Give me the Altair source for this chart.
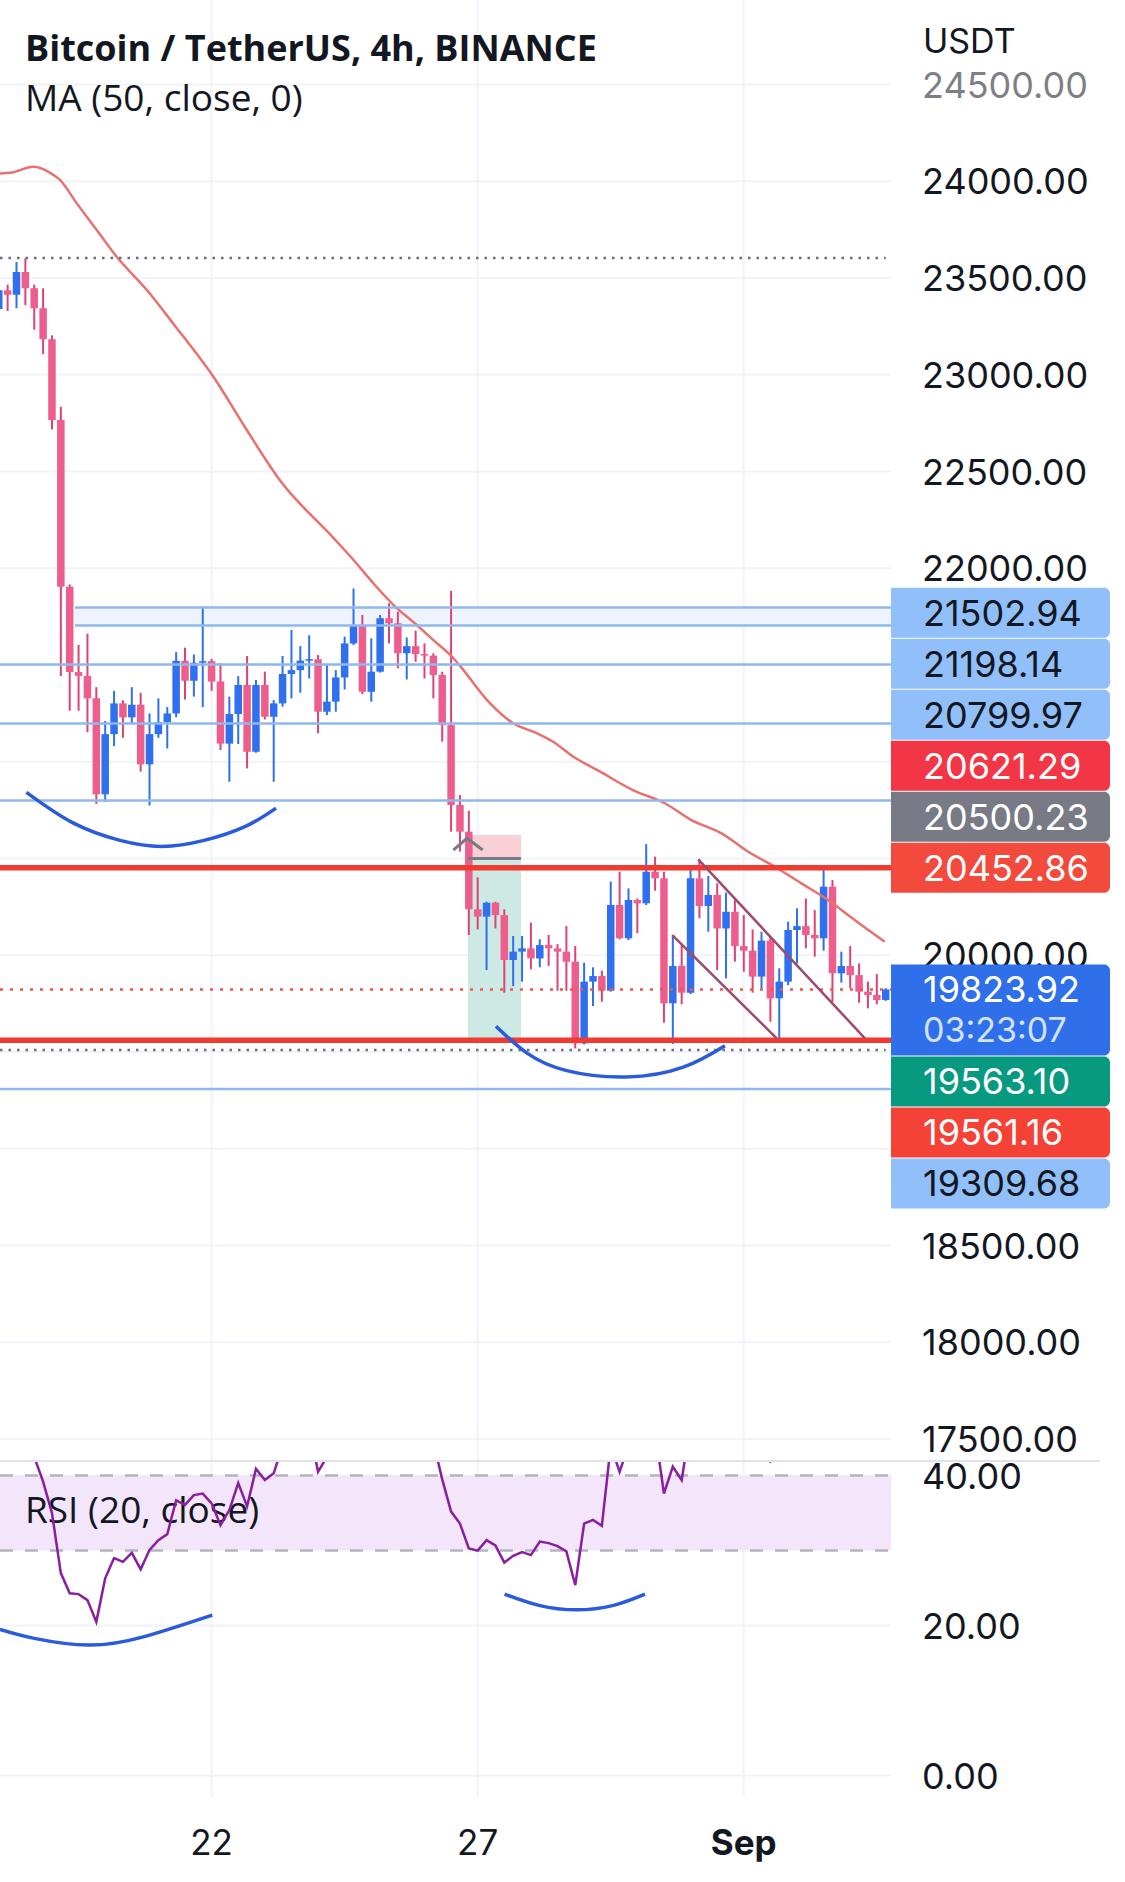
import altair as alt
import pandas as pd

# ---------------- values ----------------
# 4h candles, index 0 = Aug 22 00:00, 30 = Aug 27, 60 = Sep 1
candle_idx = list(range(-24, 77))
opens = [
    23340, 23437, 23414, 23531, 23447, 23344, 23184, 22766, 21905, 21464,
    21444, 21328, 20832, 21143, 21302, 21230, 21295, 20987, 21143, 21205,
    21250, 21522, 21419, 21512, 21520, 21415, 21094, 21247, 21397, 21052,
    21397, 21233, 21302, 21454, 21474, 21523, 21530, 21259, 21311, 21436,
    21612, 21707, 21362, 21466, 21742, 21716, 21561, 21598, 21557, 21549,
    21449, 21190, 20777, 20639, 20238, 20200, 20272, 20208, 19976, 20019,
    20036, 19984, 20053, 20036, 20019, 19967, 19545, 19864, 19893, 19817,
    20260, 20088, 20286, 20269, 20432, 20398, 19752, 19945, 19807, 20398,
    20255, 20312, 20139, 20225, 20048, 20024, 19890, 20076, 19778, 19864,
    20131, 20151, 20105, 20088, 20355, 19907, 19945, 19898, 19812, 19795,
    19769]
closes = [
    23437, 23414, 23531, 23447, 23344, 23184, 22766, 21905, 21464, 21444,
    21328, 20832, 21143, 21302, 21230, 21295, 20987, 21143, 21205, 21250,
    21522, 21419, 21512, 21520, 21415, 21094, 21247, 21397, 21052, 21397,
    21233, 21302, 21454, 21474, 21523, 21530, 21259, 21311, 21436, 21612,
    21707, 21362, 21466, 21742, 21716, 21561, 21598, 21557, 21549, 21449,
    21190, 20777, 20639, 20238, 20200, 20272, 20208, 19976, 20019, 20036,
    19984, 20053, 20036, 20019, 19967, 19545, 19864, 19893, 19817, 20260,
    20088, 20286, 20269, 20432, 20398, 19752, 19945, 19807, 20398, 20255,
    20312, 20139, 20225, 20048, 20024, 19890, 20076, 19778, 19864, 20131,
    20151, 20105, 20088, 20355, 19907, 19945, 19898, 19812, 19795, 19769,
    19824]
highs = [
    23490, 23466, 23583, 23602, 23466, 23447, 23204, 22835, 21917, 21604,
    21662, 21386, 21211, 21367, 21318, 21386, 21357, 21250, 21328, 21283,
    21567, 21590, 21555, 21804, 21532, 21509, 21337, 21443, 21547, 21423,
    21466, 21319, 21547, 21681, 21598, 21654, 21552, 21505, 21474, 21647,
    21896, 21759, 21638, 21759, 21819, 21776, 21643, 21678, 21612, 21561,
    21466, 21884, 20828, 20747, 20403, 20277, 20277, 20238, 20100, 20100,
    20169, 20083, 20105, 20058, 20151, 20048, 19962, 19938, 19921, 20381,
    20432, 20346, 20294, 20575, 20510, 20432, 20105, 20053, 20458, 20496,
    20410, 20372, 20324, 20286, 20208, 20134, 20122, 20096, 19933, 20174,
    20243, 20294, 20234, 20441, 20389, 20019, 20048, 19958, 19864, 19903,
    19830]
lows = [
    23291, 23330, 23344, 23360, 23233, 23107, 22718, 21444, 21264, 21264,
    21153, 20783, 20793, 21081, 21124, 21201, 20949, 20774, 21124, 21069,
    21230, 21322, 21337, 21283, 21367, 21061, 20897, 21092, 20966, 21047,
    21219, 20897, 21285, 21328, 21357, 21431, 21147, 21242, 21259, 21374,
    21604, 21350, 21311, 21461, 21612, 21483, 21426, 21517, 21431, 21328,
    21104, 20639, 20536, 20105, 20134, 19924, 20139, 19807, 19841, 19864,
    19928, 19938, 19945, 19817, 19817, 19519, 19540, 19738, 19760, 19812,
    20083, 20079, 20114, 20260, 20334, 19652, 19542, 19747, 19800, 20191,
    20122, 19924, 19881, 19967, 19915, 19807, 19829, 19657, 19571, 19846,
    19958, 20036, 19993, 20024, 19760, 19859, 19829, 19755, 19726, 19747,
    19765]
rsi_vals = [
    50.0, 49.0, 53.0, 48.0, 42.5, 39.2, 35.0, 27.0, 24.3, 24.2,
    23.4, 20.5, 26.3, 29.0, 28.5, 29.7, 27.5, 30.1, 31.4, 32.2,
    36.7, 36.1, 37.4, 37.6, 36.3, 33.4, 35.4, 39.0, 35.9, 40.9,
    39.4, 40.3, 44.0, 45.0, 46.0, 46.5, 40.5, 42.5, 45.0, 48.0,
    50.0, 46.0, 48.0, 52.0, 51.5, 49.0, 49.5, 49.0, 48.8, 44.5,
    39.5, 35.2, 33.6, 30.3, 30.0, 31.4, 30.7, 28.4, 29.3, 29.8,
    29.4, 31.2, 31.0, 30.6, 29.9, 25.4, 33.6, 34.1, 33.3, 44.0,
    40.5, 44.0, 43.5, 47.0, 46.0, 37.6, 41.2, 39.4, 47.0, 44.5,
    45.5, 43.0, 44.5, 43.0, 42.8, 42.6, 44.5, 41.9, 43.0, 46.5,
    46.5, 46.0, 45.8, 49.0, 43.5, 44.0, 43.5, 43.0, 42.8, 42.6,
    43.5]

ma_idx = [-23.86, -22.7, -20.1, -18.2, -17.1, -15.2, -12.95, -10.7, -7.3, -4.3,
          0.2, 4.0, 7.7, 13.7, 16.0, 18.4, 20.7, 22.9, 25.2, 27.1,
          28.0, 31.4, 34.0, 36.7, 38.5, 40.8, 43.8, 47.5, 51.1, 54.1,
          57.5, 60.5, 63.5, 66.5, 69.5, 72.5, 75.9]
ma_val = [24041, 24044, 24075, 24044, 24007, 23886, 23748, 23610, 23438, 23263,
          22990, 22712, 22455, 22159, 22043, 21914, 21802, 21716, 21621, 21543,
          21496, 21302, 21199, 21147, 21104, 21026, 20949, 20854, 20786, 20699,
          20630, 20535, 20458, 20372, 20286, 20183, 20070]

level_lines = [21502.94, 21198.14, 20799.97, 19309.68]
band_lines = [21798, 21704]
band_start = -15.4
red_lines = [20452.86, 19561.16]
dotted_levels = [23604, 19511]
dotted_end = 76
last_price = 19823.92
countdown = "03:23:07"
pos_entry, pos_stop, pos_target = 20500.23, 20621.29, 19563.10
pos_from, pos_to = 28.9, 34.88

chan_x1 = [54.87, 51.94]
chan_p1 = [20496, 20105]
chan_x2 = [73.66, 63.71]
chan_p2 = [19571, 19571]

chevron_x = [27.26, 28.8, 30.56]
chevron_p = [20544, 20605, 20544]

arc1_x = [-20.88, -15.74, -10.33, -5.59, -0.86, 3.88, 7.26]
arc1_p = [20842, 20687, 20594, 20563, 20594, 20668, 20761]
arc2_x = [32.06, 35.52, 40.03, 46.8, 53.18, 57.88]
arc2_p = [19634, 19496, 19404, 19371, 19422, 19533]
arc3_x = [-23.86, -19.98, -13.83, -7.7, 0.07]
arc3_r = [19.5, 18.3, 17.4, 18.5, 21.4]
arc4_x = [33.03, 36.91, 41.12, 45.31, 48.86]
arc4_r = [24.2, 22.7, 22.1, 22.7, 24.2]

price_ticks = [24500, 24000, 23500, 23000, 22500, 22000, 21500, 21000, 20500,
               20000, 19500, 19000, 18500, 18000, 17500]
rsi_ticks = [40, 20, 0]
rsi_band = [30, 40]
time_tick_idx = [0, 30, 60]
time_tick_lbl = ["22", "27", "Sep"]

label_values = [21502.94, 21198.14, 20799.97, 20621.29, 20500.23, 20452.86,
                19563.10, 19561.16, 19309.68]
label_kinds = ["level", "level", "level", "stop", "entry", "resist",
               "target", "support", "level"]

# ---------------- layout & style ----------------
W, H1, H2 = 891, 1460, 337
PMIN, PMAX = 17392, 24937
RMIN, RMAX = -2.85, 42.08
XMIN, XMAX = -23.86, 76.6

UP, DOWN = "#2F70EE", "#EE5E8D"
UPW, DOWNW = "#2F70EE", "#DE4274"
GRID = "#F0F3FA"
TXT = "#131722"
AXF = "Inter"
BOX_STYLE = {
    "level": ("#90BFF9", TXT),
    "stop": ("#F23645", "#FFFFFF"),
    "entry": ("#787B86", "#FFFFFF"),
    "resist": ("#F24A3D", "#FFFFFF"),
    "last": ("#2F6FEA", "#FFFFFF"),
    "target": ("#089981", "#FFFFFF"),
    "support": ("#F44336", "#FFFFFF"),
}
BODY_HALF = 0.423   # candle body half width (in candles)
WICK_HALF = 0.113
NOFRAME = alt.ViewBackground(stroke="transparent", strokeWidth=0)

xs = alt.Scale(domain=[XMIN, XMAX], nice=False, zero=False)
ps = alt.Scale(domain=[PMIN, PMAX], nice=False, zero=False)
rs = alt.Scale(domain=[RMIN, RMAX], nice=False, zero=False)


def X(f):
    return alt.X(f"{f}:Q", scale=xs, axis=None)


def PY(f):
    return alt.Y(f"{f}:Q", scale=ps, axis=None)


def RY(f):
    return alt.Y(f"{f}:Q", scale=rs, axis=None)


# ---------------- tables ----------------
cdf = pd.DataFrame({"i": candle_idx, "o": opens, "h": highs, "l": lows, "c": closes})
mid = (cdf["o"] + cdf["c"]) / 2
small = (cdf["o"] - cdf["c"]).abs() < 8
cdf["bt"] = cdf[["o", "c"]].max(axis=1).where(~small, mid + 4)
cdf["bb"] = cdf[["o", "c"]].min(axis=1).where(~small, mid - 4)
up_cond = "datum.c >= datum.o"

# label boxes (stacked like the price scale does)
k = H1 / (PMAX - PMIN)
SLOT, HALF = 51 / k, 25 / k
rows = []
upper = sorted([(v, kd) for v, kd in zip(label_values, label_kinds) if v > last_price])
prev = None
for v, kd in upper:
    cpos = v if prev is None else max(v, prev + SLOT)
    rows.append(dict(v=v, kind=kd, c=cpos, top=cpos + HALF, bot=cpos - HALF))
    prev = cpos
rows.append(dict(v=last_price, kind="last", c=last_price, top=last_price + HALF,
                 bot=last_price - 66 / k))
lower = sorted([(v, kd) for v, kd in zip(label_values, label_kinds) if v < last_price],
               reverse=True)
prev = None
for v, kd in lower:
    cpos = min(v, last_price - 92 / k) if prev is None else min(v, prev - SLOT)
    rows.append(dict(v=v, kind=kd, c=cpos, top=cpos + HALF, bot=cpos - HALF))
    prev = cpos
ldf = pd.DataFrame(rows)
ldf["txt"] = ldf["v"].map(lambda v: f"{v:.2f}")
ldf["bg"] = ldf["kind"].map(lambda s: BOX_STYLE[s][0])
ldf["fg"] = ldf["kind"].map(lambda s: BOX_STYLE[s][1])

# axis labels that the boxes hide are not drawn
shown_ticks = [t for t in price_ticks
               if not any((r["bot"] < t < r["top"]) for r in rows)]

# ---------------- price pane ----------------
L = []
L.append(alt.Chart(pd.DataFrame({"p": price_ticks})).mark_rule(color=GRID, strokeWidth=2, clip=True)
         .encode(y=PY("p"), x=alt.value(0), x2=alt.value(W)))
L.append(alt.Chart(pd.DataFrame({"i": time_tick_idx})).mark_rule(color=GRID, strokeWidth=2, clip=True)
         .encode(x=X("i"), y=alt.value(0), y2=alt.value(H1)))
# band rectangle
L.append(alt.Chart(pd.DataFrame({"a": [band_start], "b": [XMAX], "y1": [band_lines[1]], "y2": [band_lines[0]]}))
         .mark_rect(color="#EDF4FD", clip=True)
         .encode(x=X("a"), x2=alt.X2("b"), y=PY("y1"), y2=alt.Y2("y2")))
# position tool
posdf = pd.DataFrame({"a": [pos_from, pos_from], "b": [pos_to, pos_to],
                      "y1": [pos_entry, pos_target], "y2": [pos_stop, pos_entry],
                      "kind": ["stop", "target"]})
L.append(alt.Chart(posdf).mark_rect(clip=True)
         .encode(x=X("a"), x2=alt.X2("b"), y=PY("y1"), y2=alt.Y2("y2"),
                 color=alt.Color("kind:N", scale=alt.Scale(domain=["stop", "target"],
                                                           range=["#F8D0D5", "#CDE9E3"]), legend=None)))
# candles (wick and body drawn as rectangles)
L.append(alt.Chart(cdf)
         .transform_calculate(wa=f"max(datum.i - {WICK_HALF}, {XMIN})", wb=f"datum.i + {WICK_HALF}")
         .mark_rect(clip=True)
         .encode(x=X("wa"), x2=alt.X2("wb"), y=PY("l"), y2=alt.Y2("h"),
                 color=alt.condition(up_cond, alt.value(UPW), alt.value(DOWNW))))
L.append(alt.Chart(cdf)
         .transform_calculate(ba=f"max(datum.i - {BODY_HALF}, {XMIN})", bb2=f"datum.i + {BODY_HALF}")
         .mark_rect(clip=True)
         .encode(x=X("ba"), x2=alt.X2("bb2"), y=PY("bb"), y2=alt.Y2("bt"),
                 color=alt.condition(up_cond, alt.value(UP), alt.value(DOWN))))
# MA
L.append(alt.Chart(pd.DataFrame({"i": ma_idx, "p": ma_val}))
         .mark_line(color="#E8716F", strokeWidth=2.5, interpolate="monotone", clip=True)
         .encode(x=X("i"), y=PY("p")))
# horizontal levels
L.append(alt.Chart(pd.DataFrame({"p": level_lines})).mark_rule(color="#8FB8EF", strokeWidth=2.5, clip=True)
         .encode(y=PY("p"), x=alt.value(0), x2=alt.value(W)))
L.append(alt.Chart(pd.DataFrame({"p": band_lines, "a": [band_start] * 2, "b": [XMAX] * 2}))
         .mark_rule(color="#8FB8EF", strokeWidth=2.5, clip=True)
         .encode(y=PY("p"), x=X("a"), x2=alt.X2("b")))
L.append(alt.Chart(pd.DataFrame({"p": dotted_levels, "a": [XMIN] * 2, "b": [dotted_end] * 2}))
         .mark_rule(color="#6A6D78", strokeWidth=2.5, strokeDash=[2.5, 6], clip=True)
         .encode(y=PY("p"), x=X("a"), x2=alt.X2("b")))
L.append(alt.Chart(pd.DataFrame({"p": [last_price]}))
         .mark_rule(color="#F0574A", strokeWidth=2.5, strokeDash=[3, 7], clip=True)
         .encode(y=PY("p"), x=alt.value(0), x2=alt.value(W)))
L.append(alt.Chart(pd.DataFrame({"p": red_lines})).mark_rule(color="#F23B30", strokeWidth=5.5, clip=True)
         .encode(y=PY("p"), x=alt.value(0), x2=alt.value(W)))
L.append(alt.Chart(pd.DataFrame({"p": [pos_entry], "a": [pos_from], "b": [pos_to]}))
         .mark_rule(color="#787B86", strokeWidth=3, clip=True)
         .encode(y=PY("p"), x=X("a"), x2=alt.X2("b")))
L.append(alt.Chart(pd.DataFrame({"i": chevron_x, "p": chevron_p}))
         .mark_line(color="#787B86", strokeWidth=3, clip=True)
         .encode(x=X("i"), y=PY("p")))
# channel lines
L.append(alt.Chart(pd.DataFrame({"a": chan_x1, "b": chan_x2, "y1": chan_p1, "y2": chan_p2}))
         .mark_rule(color="#9D4A6E", strokeWidth=2.5, clip=True)
         .encode(x=X("a"), x2=alt.X2("b"), y=PY("y1"), y2=alt.Y2("y2")))
# hand-drawn arcs
arcs_p = pd.DataFrame({"i": arc1_x + arc2_x, "p": arc1_p + arc2_p,
                       "g": ["a"] * len(arc1_x) + ["b"] * len(arc2_x)})
L.append(alt.Chart(arcs_p).mark_line(color="#2A5BDA", strokeWidth=3.5, interpolate="natural", clip=True)
         .encode(x=X("i"), y=PY("p"), detail="g:N"))
# texts
L.append(alt.Chart(pd.DataFrame({"t": ["Bitcoin / TetherUS, 4h, BINANCE"]}))
         .mark_text(align="left", baseline="alphabetic", font="Open Sans", fontSize=36,
                    fontWeight="bold", color=TXT)
         .encode(text="t:N", x=alt.value(25), y=alt.value(61)))
L.append(alt.Chart(pd.DataFrame({"t": ["MA (50, close, 0)"]}))
         .mark_text(align="left", baseline="alphabetic", font="Open Sans", fontSize=37, color=TXT)
         .encode(text="t:N", x=alt.value(25), y=alt.value(111)))
L.append(alt.Chart(pd.DataFrame({"t": ["USDT"]}))
         .mark_text(align="left", baseline="alphabetic", font=AXF, fontSize=34, color=TXT)
         .encode(text="t:N", x=alt.value(923), y=alt.value(53)))
tick_df = pd.DataFrame({"p": shown_ticks, "t": [f"{v:.2f}" for v in shown_ticks]})
L.append(alt.Chart(tick_df)
         .mark_text(align="left", baseline="alphabetic", dy=13, font=AXF, fontSize=36, color=TXT)
         .encode(text="t:N", x=alt.value(922), y=PY("p"),
                 opacity=alt.condition("datum.p > 24400", alt.value(0.55), alt.value(1))))
# price-scale label boxes
L.append(alt.Chart(ldf).mark_rect(cornerRadiusTopRight=6, cornerRadiusBottomRight=6)
         .encode(x=alt.value(891), x2=alt.value(1110), y=PY("bot"), y2=alt.Y2("top"),
                 color=alt.Color("bg:N", scale=None)))
L.append(alt.Chart(ldf)
         .mark_text(align="left", baseline="alphabetic", dy=13, font=AXF, fontSize=36)
         .encode(text="txt:N", x=alt.value(923), y=PY("c"), color=alt.Color("fg:N", scale=None)))
L.append(alt.Chart(pd.DataFrame({"p": [last_price], "t": [countdown]}))
         .mark_text(align="left", baseline="alphabetic", dy=53, font=AXF, fontSize=34, color="#D3E2FF")
         .encode(text="t:N", x=alt.value(923), y=PY("p")))

top = alt.layer(*L).properties(width=W, height=H1, view=NOFRAME)

# ---------------- RSI pane ----------------
R = []
R.append(alt.Chart(pd.DataFrame({"r": rsi_ticks})).mark_rule(color=GRID, strokeWidth=2, clip=True)
         .encode(y=RY("r"), x=alt.value(0), x2=alt.value(W)))
R.append(alt.Chart(pd.DataFrame({"i": time_tick_idx})).mark_rule(color=GRID, strokeWidth=2, clip=True)
         .encode(x=X("i"), y=alt.value(0), y2=alt.value(H2)))
R.append(alt.Chart(pd.DataFrame({"a": [rsi_band[0]], "b": [rsi_band[1]]}))
         .mark_rect(color="#F3E6FB", clip=True)
         .encode(y=RY("a"), y2=alt.Y2("b"), x=alt.value(0), x2=alt.value(W)))
R.append(alt.Chart(pd.DataFrame({"r": rsi_band}))
         .mark_rule(color="#B2B5BE", strokeWidth=2.5, strokeDash=[13, 12], clip=True)
         .encode(y=RY("r"), x=alt.value(0), x2=alt.value(W)))
R.append(alt.Chart(pd.DataFrame({"t": ["RSI (20, close)"]}))
         .mark_text(align="left", baseline="alphabetic", font="Open Sans", fontSize=37, color=TXT)
         .encode(text="t:N", x=alt.value(25), y=alt.value(63)))
R.append(alt.Chart(pd.DataFrame({"i": candle_idx, "r": rsi_vals}))
         .mark_line(color="#8A1DA0", strokeWidth=2.5, clip=True)
         .encode(x=X("i"), y=RY("r")))
arcs_r = pd.DataFrame({"i": arc3_x + arc4_x, "r": arc3_r + arc4_r,
                       "g": ["a"] * len(arc3_x) + ["b"] * len(arc4_x)})
R.append(alt.Chart(arcs_r).mark_line(color="#2A5BDA", strokeWidth=3.5, interpolate="natural", clip=True)
         .encode(x=X("i"), y=RY("r"), detail="g:N"))
# pane separator (a thin rectangle, so it adds no stroke margin)
R.append(alt.Chart(pd.DataFrame({"a": [0]})).mark_rect(color="#E0E3EB")
         .encode(y=alt.value(0), y2=alt.value(2), x=alt.value(0), x2=alt.value(1100)))
R.append(alt.Chart(pd.DataFrame({"r": rsi_ticks, "t": [f"{v:.2f}" for v in rsi_ticks]}))
         .mark_text(align="left", baseline="alphabetic", dy=13, font=AXF, fontSize=36, color=TXT)
         .encode(text="t:N", x=alt.value(922), y=RY("r")))
tdf = pd.DataFrame({"i": time_tick_idx, "t": time_tick_lbl})
R.append(alt.Chart(tdf).transform_filter("datum.t != 'Sep'")
         .mark_text(align="center", baseline="alphabetic", font=AXF, fontSize=35, color=TXT)
         .encode(text="t:N", x=X("i"), y=alt.value(395)))
R.append(alt.Chart(tdf).transform_filter("datum.t == 'Sep'")
         .mark_text(align="center", baseline="alphabetic", font=AXF, fontSize=35, fontWeight="bold", color=TXT)
         .encode(text="t:N", x=X("i"), y=alt.value(395)))

bot = alt.layer(*R).properties(width=W, height=H2, view=NOFRAME)

chart = (alt.vconcat(top, bot, spacing=0, bounds="flush")
         .properties(padding=0)
         .configure_view(stroke="transparent", strokeWidth=0)
         .configure(background="white"))

chart.save("out.html", embed_options={"renderer": "svg", "actions": False})
